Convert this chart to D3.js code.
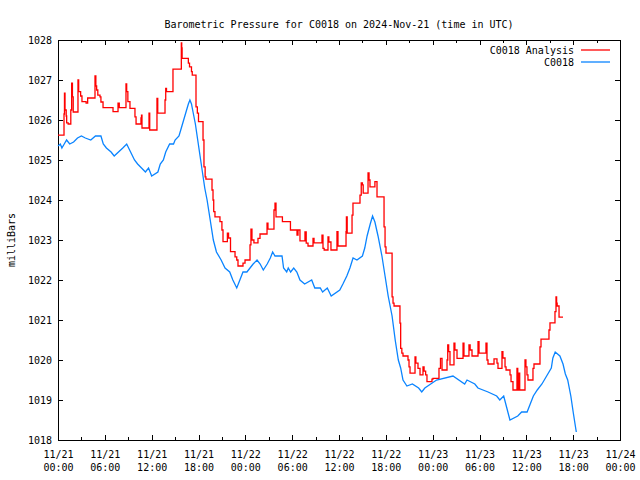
<!DOCTYPE html>
<html>
<head>
<meta charset="utf-8">
<script src="https://cdn.jsdelivr.net/npm/d3@7/dist/d3.min.js"></script>
<style>
  html, body { margin: 0; padding: 0; background: #fff; }
  svg text { font-family: "DejaVu Sans Mono", "Liberation Mono", monospace; font-size: 10px; fill: #000; }
</style>
</head>
<body>
<svg id="chart" width="640" height="480"></svg>
<script>
// ---- data (hours since 2024-11-21 00:00 UTC, pressure in mb) ----
const titleText = "Barometric Pressure for C0018 on 2024-Nov-21 (time in UTC)";
const yLabel = "milliBars";
const seriesNames = ["C0018 Analysis", "C0018"];

const yTicks = [1018, 1019, 1020, 1021, 1022, 1023, 1024, 1025, 1026, 1027, 1028];
const xTickHours = [0, 6, 12, 18, 24, 30, 36, 42, 48, 54, 60, 66, 72];
const xTickDates = ["11/21", "11/21", "11/21", "11/21", "11/22", "11/22", "11/22", "11/22", "11/23", "11/23", "11/23", "11/23", "11/24"];
const xTickTimes = ["00:00", "06:00", "12:00", "18:00", "00:00", "06:00", "12:00", "18:00", "00:00", "06:00", "12:00", "18:00", "00:00"];
const xMinorHours = [3, 9, 15, 21, 27, 33, 39, 45, 51, 57, 63, 69];

const analysisHours = [0, 0.77, 0.83, 0.9, 1.05, 1.11, 1.3, 1.64, 1.75, 1.85, 1.95, 2.56, 2.65, 2.9, 3.07, 3.6, 3.8, 4.74, 4.85, 4.95, 5.1, 5.38, 5.5, 5.77, 7.05, 7.69, 7.85, 8.71, 8.8, 8.95, 9.22, 9.86, 10.0, 10.63, 10.7, 10.76, 11.66, 11.75, 12.68, 12.78, 13.71, 13.8, 13.9, 14.73, 15.8, 15.85, 15.9, 16.7, 16.85, 17.1, 17.2, 17.68, 17.85, 18.0, 18.58, 18.7, 18.85, 18.95, 19.73, 19.86, 19.95, 20.11, 20.75, 21.0, 21.14, 21.7, 21.85, 22.1, 22.68, 22.9, 23.06, 23.7, 23.96, 24.6, 24.72, 24.85, 25.1, 25.62, 25.88, 26.78, 26.9, 27.67, 27.8, 27.93, 28.75, 29.78, 30.62, 30.75, 31.0, 31.64, 31.8, 32.03, 32.67, 32.8, 33.82, 33.95, 34.1, 34.59, 34.7, 34.97, 35.74, 35.87, 36.9, 36.95, 37.05, 37.67, 37.79, 38.69, 38.85, 39.0, 39.1, 39.72, 39.85, 39.97, 40.6, 40.87, 41.77, 41.9, 42.02, 42.8, 42.92, 43.05, 43.81, 43.9, 44.05, 44.2, 44.84, 44.97, 45.1, 45.74, 45.85, 46.12, 46.38, 46.76, 46.9, 47.1, 47.27, 47.91, 48.04, 48.81, 49.0, 49.2, 49.84, 49.93, 50.05, 50.22, 50.73, 50.85, 51.12, 51.89, 52.01, 52.65, 52.8, 53.04, 53.81, 53.94, 54.83, 54.96, 55.09, 55.86, 56.24, 56.37, 56.88, 57.0, 57.27, 57.4, 57.91, 58.04, 58.29, 58.8, 58.9, 59.06, 59.15, 59.83, 59.95, 60.08, 60.21, 60.85, 60.98, 61.75, 61.88, 62.9, 63.03, 63.67, 63.8, 63.88, 63.95, 64.19, 64.7];
const analysisValues = [1025.62, 1026.15, 1026.67, 1026.25, 1026.1, 1025.93, 1025.9, 1026.25, 1026.92, 1026.58, 1026.2, 1027.0, 1026.71, 1026.6, 1026.46, 1026.42, 1026.55, 1027.1, 1026.85, 1026.75, 1026.62, 1026.58, 1026.45, 1026.31, 1026.21, 1026.42, 1026.31, 1026.9, 1026.71, 1026.46, 1026.29, 1026.08, 1025.9, 1026.05, 1026.12, 1025.8, 1026.17, 1025.75, 1026.54, 1026.17, 1026.5, 1026.79, 1026.71, 1027.27, 1027.93, 1027.8, 1027.54, 1027.42, 1027.33, 1027.21, 1027.12, 1026.33, 1026.17, 1025.96, 1025.5, 1024.83, 1024.58, 1024.52, 1024.25, 1024.0, 1023.71, 1023.58, 1023.46, 1023.25, 1022.96, 1023.17, 1023.05, 1022.71, 1022.58, 1022.5, 1022.35, 1022.42, 1022.5, 1022.88, 1023.27, 1023.0, 1022.93, 1023.04, 1023.15, 1023.42, 1023.27, 1023.75, 1023.92, 1023.58, 1023.46, 1023.25, 1023.12, 1023.25, 1022.98, 1023.2, 1022.92, 1022.85, 1023.04, 1022.93, 1023.12, 1022.79, 1022.75, 1023.08, 1022.95, 1022.75, 1023.21, 1022.85, 1023.21, 1023.58, 1023.17, 1023.62, 1023.92, 1024.12, 1024.43, 1024.38, 1024.17, 1024.68, 1024.5, 1024.33, 1024.46, 1024.08, 1023.33, 1022.83, 1022.67, 1021.58, 1021.42, 1021.35, 1020.92, 1020.29, 1020.17, 1020.1, 1020.0, 1019.83, 1019.67, 1020.08, 1019.92, 1019.79, 1019.63, 1019.83, 1019.72, 1019.63, 1019.46, 1019.52, 1019.54, 1019.79, 1020.04, 1019.75, 1020.0, 1020.38, 1020.21, 1019.88, 1020.42, 1020.25, 1020.04, 1020.42, 1020.1, 1020.38, 1020.25, 1020.1, 1020.46, 1020.17, 1020.42, 1020.0, 1019.9, 1020.03, 1019.92, 1019.79, 1020.21, 1020.05, 1019.83, 1019.75, 1019.63, 1019.46, 1019.25, 1019.79, 1019.25, 1019.67, 1019.25, 1020.0, 1019.83, 1019.63, 1019.5, 1019.79, 1019.9, 1020.33, 1020.52, 1020.75, 1020.93, 1021.21, 1021.58, 1021.42, 1021.35, 1021.07, 1021.07];

const obsHours = [0, 0.3, 0.5, 0.8, 1.1, 1.5, 2.0, 2.5, 3.0, 3.5, 4.2, 4.8, 5.5, 5.8, 6.2, 6.8, 7.2, 8.3, 8.8, 9.3, 9.8, 10.2, 10.7, 11.2, 11.6, 12.0, 12.8, 13.1, 13.5, 13.8, 14.3, 14.8, 15.0, 15.5, 15.8, 16.1, 16.4, 16.7, 16.9, 17.1, 17.3, 17.6, 17.9, 18.2, 18.5, 18.8, 19.1, 19.5, 19.9, 20.3, 20.9, 21.4, 22.0, 22.4, 22.9, 23.3, 23.7, 24.2, 24.6, 25.0, 25.5, 25.9, 26.3, 26.8, 27.2, 27.5, 27.8, 28.7, 28.9, 29.3, 29.5, 29.8, 30.2, 30.6, 31.0, 31.6, 32.5, 32.9, 33.6, 33.9, 34.5, 35.0, 36.1, 36.5, 37.0, 37.4, 37.8, 38.3, 39.0, 39.3, 39.6, 40.0, 40.3, 40.6, 41.0, 41.5, 41.9, 42.3, 42.8, 43.2, 43.6, 43.9, 44.2, 44.7, 45.4, 46.2, 46.6, 47.0, 48.5, 50.6, 52.1, 52.4, 53.4, 53.8, 55.1, 56.2, 56.6, 57.1, 57.5, 57.9, 58.9, 59.4, 60.1, 60.5, 60.9, 61.4, 62.0, 62.6, 63.2, 63.4, 63.7, 64.3, 64.7, 65.0, 65.3, 65.7, 66.0, 66.4];
const obsValues = [1025.35, 1025.4, 1025.3, 1025.4, 1025.5, 1025.4, 1025.45, 1025.55, 1025.6, 1025.55, 1025.5, 1025.6, 1025.6, 1025.4, 1025.3, 1025.2, 1025.1, 1025.3, 1025.4, 1025.2, 1025.0, 1024.9, 1024.8, 1024.7, 1024.8, 1024.6, 1024.7, 1024.9, 1025.0, 1025.2, 1025.4, 1025.4, 1025.5, 1025.6, 1025.8, 1026.0, 1026.2, 1026.4, 1026.5, 1026.4, 1026.2, 1025.9, 1025.5, 1025.1, 1024.7, 1024.3, 1024.0, 1023.5, 1023.0, 1022.7, 1022.5, 1022.3, 1022.2, 1022.0, 1021.8, 1022.0, 1022.2, 1022.2, 1022.3, 1022.4, 1022.5, 1022.4, 1022.25, 1022.4, 1022.55, 1022.7, 1022.6, 1022.6, 1022.3, 1022.2, 1022.3, 1022.2, 1022.3, 1022.2, 1022.0, 1021.9, 1022.0, 1021.8, 1021.8, 1021.7, 1021.8, 1021.6, 1021.75, 1021.9, 1022.1, 1022.3, 1022.55, 1022.5, 1022.6, 1022.8, 1023.1, 1023.4, 1023.6, 1023.45, 1023.1, 1022.6, 1022.1, 1021.6, 1021.1, 1020.5, 1020.0, 1019.8, 1019.5, 1019.35, 1019.4, 1019.3, 1019.2, 1019.3, 1019.5, 1019.6, 1019.4, 1019.5, 1019.4, 1019.3, 1019.2, 1019.1, 1019.0, 1019.1, 1018.8, 1018.5, 1018.6, 1018.7, 1018.7, 1018.9, 1019.1, 1019.25, 1019.4, 1019.6, 1019.8, 1020.05, 1020.2, 1020.1, 1019.9, 1019.65, 1019.5, 1019.1, 1018.7, 1018.2];

const colors = ["#ff0000", "#0a84ff"];

// ---- layout ----
const svg = d3.select("#chart");
const L = 58, R = 620, T = 40, B = 440;
const t0 = Date.UTC(2024, 10, 21, 0, 0);
const hToDate = h => new Date(t0 + h * 3600000);

const x = d3.scaleUtc().domain([hToDate(0), hToDate(72)]).range([L, R]);
const y = d3.scaleLinear().domain([1018, 1028]).range([B, T]);

// title
svg.append("text").attr("x", 339).attr("y", 28).attr("text-anchor", "middle").text(titleText);

// y label
svg.append("text").attr("transform", "translate(15,240) rotate(-90)").attr("text-anchor", "middle").text(yLabel);

// axes
const yl = svg.append("g").attr("transform", `translate(${L},0)`)
  .call(d3.axisLeft(y).tickValues(yTicks).tickFormat(d3.format("d")).tickSize(-5).tickPadding(6));
const yr = svg.append("g").attr("transform", `translate(${R},0)`)
  .call(d3.axisRight(y).tickValues(yTicks).tickFormat("").tickSize(-5));

const xb = svg.append("g").attr("transform", `translate(0,${B})`)
  .call(d3.axisBottom(x).tickValues(xTickHours.map(hToDate)).tickFormat("").tickSize(-5));
const xbm = svg.append("g").attr("transform", `translate(0,${B})`)
  .call(d3.axisBottom(x).tickValues(xMinorHours.map(hToDate)).tickFormat("").tickSize(-3));
const xt = svg.append("g").attr("transform", `translate(0,${T})`)
  .call(d3.axisTop(x).tickValues(xTickHours.map(hToDate)).tickFormat("").tickSize(-5));
const xtm = svg.append("g").attr("transform", `translate(0,${T})`)
  .call(d3.axisTop(x).tickValues(xMinorHours.map(hToDate)).tickFormat("").tickSize(-3));

[yl, yr, xb, xbm, xt, xtm].forEach(g => {
  g.select(".domain").remove();
  g.selectAll(".tick line").attr("stroke", "#000").attr("shape-rendering", "crispEdges");
  g.attr("font-family", null).attr("font-size", null);
});
yl.selectAll(".tick text").attr("dy", "0.35em");

// two-line x labels
xb.selectAll(".tick").each(function(d, i) {
  const t = d3.select(this).select("text");
  t.attr("dy", null).attr("y", null).text(null);
  t.append("tspan").attr("x", 0).attr("y", 18).text(xTickDates[i]);
  t.append("tspan").attr("x", 0).attr("y", 31).text(xTickTimes[i]);
});

// border
svg.append("rect").attr("x", L).attr("y", T).attr("width", R - L).attr("height", B - T)
  .attr("fill", "none").attr("stroke", "#000").attr("shape-rendering", "crispEdges");

// series
const analysis = analysisHours.map((h, i) => ({ t: hToDate(h), v: analysisValues[i] }));
const obs = obsHours.map((h, i) => ({ t: hToDate(h), v: obsValues[i] }));

const lineStep = d3.line().x(d => x(d.t)).y(d => y(d.v)).curve(d3.curveStepAfter);
const lineLin = d3.line().x(d => x(d.t)).y(d => y(d.v)).curve(d3.curveLinear);

svg.append("path").datum(analysis).attr("d", lineStep)
  .attr("fill", "none").attr("stroke", colors[0]).attr("stroke-width", 1.3);
svg.append("path").datum(obs).attr("d", lineLin)
  .attr("fill", "none").attr("stroke", colors[1]).attr("stroke-width", 1.3);

// legend
const leg = svg.append("g");
seriesNames.forEach((name, i) => {
  const ly = 50 + i * 12;
  leg.append("text").attr("x", 574).attr("y", ly).attr("dy", "0.35em").attr("text-anchor", "end").text(name);
  leg.append("line").attr("x1", 581).attr("x2", 610).attr("y1", ly).attr("y2", ly)
    .attr("stroke", colors[i]).attr("stroke-width", 1.3);
});
</script>
</body>
</html>
